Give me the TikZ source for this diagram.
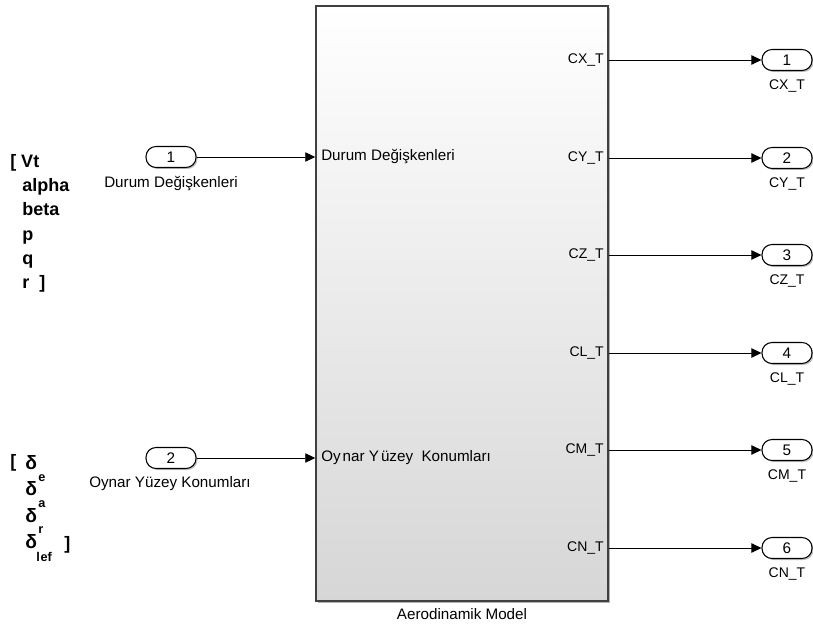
\documentclass[tikz,border=0pt]{standalone}
\usepackage{fontspec}
\setmainfont{Liberation Sans}
\usetikzlibrary{arrows.meta}
\begin{document}
\begin{tikzpicture}[x=0.75pt,y=-0.75pt,
  lbl/.style={font=\fontsize{10.5pt}{12pt}\selectfont, inner sep=0pt},
  biglbl/.style={font=\fontsize{11.4pt}{13pt}\selectfont, inner sep=0pt},
  boldlbl/.style={font=\fontsize{13.5pt}{15pt}\selectfont\bfseries, inner sep=0pt, anchor=base west},
  deltalbl/.style={font=\fontsize{14.5pt}{16pt}\selectfont\bfseries, inner sep=0pt, anchor=base west},
  sublbl/.style={font=\fontsize{9.5pt}{11pt}\selectfont\bfseries, inner sep=0pt, anchor=base west},
  port/.style={draw=black, line width=0.8pt, fill=white, rounded corners=7.5pt,
    minimum width=37.5pt, minimum height=15.75pt, inner sep=0pt,
    font=\fontsize{11.5pt}{13pt}\selectfont},
  portshadow/.style={draw=none, fill=black!25, rounded corners=7.5pt,
    minimum width=37.5pt, minimum height=15.75pt},
  arr/.style={draw=black, line width=0.6pt, -{Triangle[length=7.5pt,width=7pt]}}
]
\useasboundingbox (0,0) rectangle (813,627);

% Aerodynamic model subsystem block
\fill[black!30] (318,8) rectangle (610,603);
\node[draw=black!75, line width=1.1pt, top color=white, bottom color=black!16,
  minimum width=219pt, minimum height=446.25pt, inner sep=0pt] (model) at (462,303.5) {};
\node[biglbl, anchor=north] (modelname) at (462,608) {Aerodinamik Model};

% Inports
\node[portshadow] at (172.5,158.5) {};
\node[port] (in1) at (171,157) {1};
\node[biglbl] (in1name) at (171,184) {Durum Değişkenleri};
\node[portshadow] at (172.5,459.5) {};
\node[port] (in2) at (171,458) {2};
\node[biglbl] (in2name) at (170,484) {Oynar Yüzey Konumları};

% Input signal names inside the block
\node[biglbl, anchor=west] (pin1) at (321,157) {Durum Değişkenleri};
\node[biglbl, anchor=west] (pin2) at (321,458) {Oy\kern1.5pt nar Y\kern1.5pt üzey\ \ Konumları};

\draw[arr] (in1.east) -- (in1 -| model.west);
\draw[arr] (in2.east) -- (in2 -| model.west);

% Outports
\foreach \i/\y/\nm in {1/60/CX\_T, 2/158/CY\_T, 3/255/CZ\_T, 4/353/CL\_T, 5/450/CM\_T, 6/548/CN\_T}{
  \node[portshadow] at (788.5,\y+1.5) {};
  \node[port] (out\i) at (787,\y) {\i};
  \node[lbl] (out\i name) at (787,\y+26) {\nm};
  \node[lbl, anchor=east] (pout\i) at (604,\y) {\nm};
  \draw[arr] (out\i -| model.east) -- (out\i.west);
}

% State vector annotation
\node[boldlbl] (sv0) at (10,168) {[ Vt};
\node[boldlbl] (sv1) at (22,192) {alpha};
\node[boldlbl] (sv2) at (22,216) {beta};
\node[boldlbl] (sv3) at (22,240) {p};
\node[boldlbl] (sv4) at (22,264) {q};
\node[boldlbl] (sv5) at (22,288) {r\ \ ]};

% Control surface annotation
\node[boldlbl] (cs0) at (10,467) {[};
\node[deltalbl] (d1) at (25,469) {δ};
\node[sublbl] (s1) at (38,481) {e};
\node[deltalbl] (d2) at (25,495) {δ};
\node[sublbl] (s2) at (38,507) {a};
\node[deltalbl] (d3) at (25,522) {δ};
\node[sublbl] (s3) at (38,533) {r};
\node[deltalbl] (d4) at (25,548) {δ};
\node[sublbl] (s4) at (36,561) {l\kern0.6pt ef};
\node[boldlbl] (cs1) at (64,549) {]};
\end{tikzpicture}
\end{document}
